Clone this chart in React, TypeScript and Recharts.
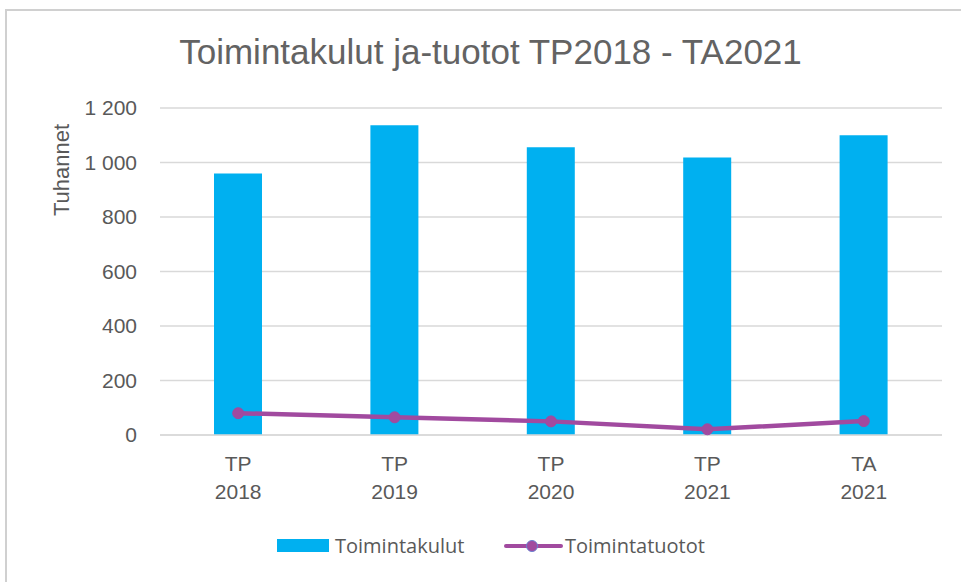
import React from 'react';
import { ComposedChart, Bar, Line, XAxis, YAxis, CartesianGrid, Legend } from 'recharts';

const categoryPrefix = ['TP', 'TP', 'TP', 'TP', 'TA'];
const categoryYear = ['2018', '2019', '2020', '2021', '2021'];
const kulut = [960, 1137, 1056, 1018, 1100];
const tuotot = [80, 65, 50, 21, 51];
const yTicks = [0, 200, 400, 600, 800, 1000, 1200];

const data = categoryPrefix.map((p, i) => ({
  name: `${p} ${categoryYear[i]}`,
  top: p,
  year: categoryYear[i],
  Toimintakulut: kulut[i],
  Toimintatuotot: tuotot[i],
}));

const FONT = '"Liberation Sans", Arial, sans-serif';
const LFONT = '"Open Sans", "Noto Sans", sans-serif';
const TXT = '#595959';
const BLUE = '#00B0F0';
const PURPLE = '#A14A9F';

const fmt = (v: number) => {
  const s = String(v);
  if (s.length > 3) return s.slice(0, s.length - 3) + ' ' + s.slice(s.length - 3);
  return s;
};

const XTick = (props: any) => {
  const { x, y, payload } = props;
  const d = data.find((r) => r.name === payload.value);
  return (
    <text x={x} y={y} textAnchor="middle" fill={TXT} fontSize={21} fontFamily={FONT}>
      <tspan x={x} dy={28}>{d ? d.top : ''}</tspan>
      <tspan x={x} dy={28}>{d ? d.year : ''}</tspan>
    </text>
  );
};

const LegendContent = () => (
  <div style={{ position: 'relative', width: 961, height: 44 }}>
    <svg width={961} height={44} style={{ position: 'absolute', left: 0, top: 0, overflow: 'visible' }}>
      <rect x={277} y={12} width={52} height={13} fill={BLUE} />
      <text x={335} y={26} fill={TXT} fontSize={20} fontFamily={LFONT}>Toimintakulut</text>
      <line x1={506} y1={19} x2={561} y2={19} stroke={PURPLE} strokeWidth={4} strokeLinecap="round" />
      <circle cx={532} cy={19} r={5.5} fill={PURPLE} stroke="#6a7fd0" strokeWidth={1} />
      <text x={565} y={26} fill={TXT} fontSize={20} fontFamily={LFONT}>Toimintatuotot</text>
    </svg>
  </div>
);

export default function App() {
  return (
    <div style={{ position: 'fixed', left: 0, top: 0, width: 961, height: 582, overflow: 'hidden', background: '#fff' }}>
      <div style={{ position: 'absolute', left: 5, top: 9, width: 1100, height: 700, border: '2px solid #D0D0D0', boxSizing: 'border-box' }} />
      <div style={{ position: 'absolute', left: 0, top: 32, width: 981, textAlign: 'center', fontFamily: FONT, fontSize: 35, color: '#636363', lineHeight: '40px' }}>
        Toimintakulut ja-tuotot TP2018 - TA2021
      </div>
      <div style={{ position: 'absolute', left: 62, top: 170, transform: 'translate(-50%, -50%) rotate(-90deg)', fontFamily: FONT, fontSize: 22, color: TXT, whiteSpace: 'nowrap', lineHeight: '24px' }}>
        Tuhannet
      </div>
      <div style={{ position: 'absolute', left: 0, top: 0 }}>
        <ComposedChart width={961} height={582} data={data} margin={{ top: 108, right: 19, bottom: 107, left: 0 }} barCategoryGap={0}>
          <CartesianGrid vertical={false} stroke="#D9D9D9" strokeWidth={1.5} />
          <XAxis dataKey="name" tick={<XTick />} tickLine={false} axisLine={{ stroke: '#D9D9D9', strokeWidth: 1.5 }} height={40} interval={0} />
          <YAxis domain={[0, 1200]} ticks={yTicks} tickFormatter={fmt} width={160} tickLine={false} axisLine={false} tickMargin={17} tick={{ fill: TXT, fontSize: 21, fontFamily: FONT }} />
          <Legend verticalAlign="middle" align="center" layout="horizontal" content={<LegendContent />} wrapperStyle={{ position: 'absolute', left: 0, top: 527, width: 961, height: 44 }} />
          <Bar dataKey="Toimintakulut" fill={BLUE} barSize={48} isAnimationActive={false} />
          <Line dataKey="Toimintatuotot" stroke={PURPLE} strokeWidth={4.5} dot={{ r: 5.5, fill: PURPLE, stroke: PURPLE, strokeWidth: 1 }} activeDot={false} isAnimationActive={false} />
        </ComposedChart>
      </div>
    </div>
  );
}
